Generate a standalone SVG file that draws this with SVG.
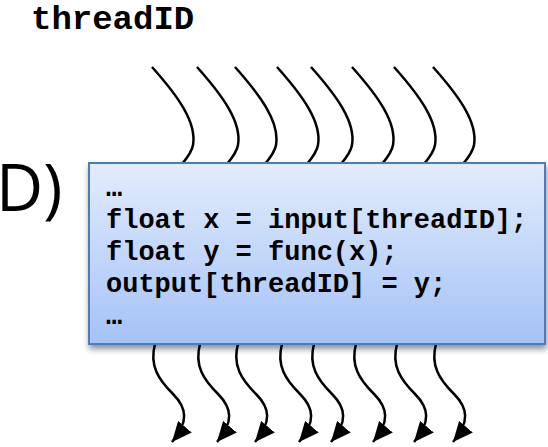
<svg xmlns="http://www.w3.org/2000/svg" width="548" height="447" viewBox="0 0 548 447">
  <defs>
    <linearGradient id="boxFill" x1="0" y1="0" x2="0" y2="1">
      <stop offset="0" stop-color="#e3ecfc"/>
      <stop offset="1" stop-color="#a4c2f6"/>
    </linearGradient>
    <filter id="shadow" x="-5%" y="-5%" width="112%" height="120%">
      <feGaussianBlur in="SourceAlpha" stdDeviation="3"/>
      <feOffset dx="1" dy="4" result="b"/>
      <feComponentTransfer><feFuncA type="linear" slope="0.45"/></feComponentTransfer>
      <feMerge><feMergeNode/><feMergeNode in="SourceGraphic"/></feMerge>
    </filter>
    <marker id="head" viewBox="0 0 20 18" refX="20" refY="9" markerWidth="20" markerHeight="18" markerUnits="userSpaceOnUse" orient="auto">
      <path d="M0,0 L20,9 L0,18 z" fill="#000"/>
    </marker>
    <!-- incoming thread: a ")" shaped stroke -->
    <path id="inThread" d="M0,67 C25,95 45,122 41,145 C40,152 35,158 30,164"/>
  </defs>
  <style>
    .mono { font-family: "Courier New", "Nimbus Mono PS", "FreeMono", "Liberation Mono", monospace; font-weight: bold; fill: #000; }
    .thread { fill: none; stroke: #000; stroke-width: 2.5; }
    .big { font-family: "Open Sans", "Noto Sans", sans-serif; fill: #000; }
  </style>

  <g id="label-threadID">
    <text class="mono" x="31" y="29" font-size="34">threadID</text>
  </g>

  <g id="label-call">
    <text class="big" x="-4" y="211" font-size="65">D)</text>
  </g>

  <g id="connectors">
    <g class="thread">
      <use href="#inThread" x="152"/>
      <use href="#inThread" x="197"/>
      <use href="#inThread" x="235"/>
      <use href="#inThread" x="277"/>
      <use href="#inThread" x="311"/>
      <use href="#inThread" x="352"/>
      <use href="#inThread" x="394"/>
      <use href="#inThread" x="433"/>
    </g>
    <g class="thread">
      <path d="M155,344 C149,366 159,380 173,394 C187,408 189,422 172,442" marker-end="url(#head)"/>
      <path d="M200,344 C194,366 204,380 218,394 C232,408 234,422 217,442" marker-end="url(#head)"/>
      <path d="M238,344 C232,366 242,380 256,394 C270,408 272,422 255,442" marker-end="url(#head)"/>
      <path d="M282,344 C276,366 286,380 300,394 C314,408 316,422 299,442" marker-end="url(#head)"/>
      <path d="M314,344 C308,366 318,380 332,394 C346,408 348,422 331,442" marker-end="url(#head)"/>
      <path d="M356,344 C350,366 360,380 374,394 C388,408 390,422 373,442" marker-end="url(#head)"/>
      <path d="M397,344 C391,366 401,380 415,394 C429,408 431,422 414,442" marker-end="url(#head)"/>
      <path d="M436,344 C430,366 440,380 454,394 C468,408 470,422 453,442" marker-end="url(#head)"/>
    </g>
  </g>

  <g id="kernel">
    <rect x="89" y="163" width="456" height="181" fill="url(#boxFill)" stroke="#4a7ebb" stroke-width="2" filter="url(#shadow)"/>
    <g class="mono" font-size="27">
      <text x="106" y="196">…</text>
      <text x="106" y="228">float x = input[threadID];</text>
      <text x="106" y="260">float y = func(x);</text>
      <text x="106" y="292">output[threadID] = y;</text>
      <text x="106" y="324">…</text>
    </g>
  </g>
</svg>
